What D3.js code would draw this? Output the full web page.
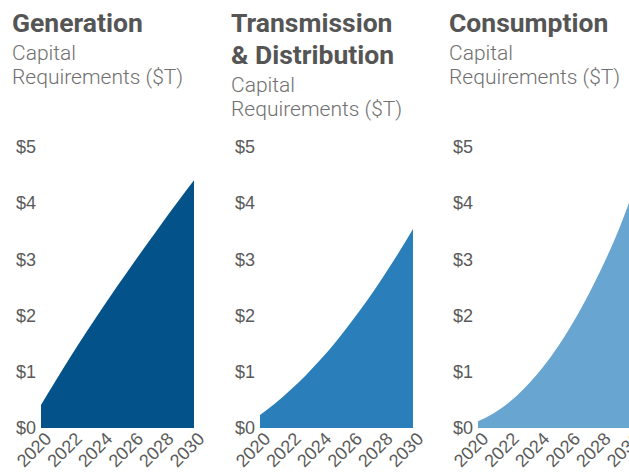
<!DOCTYPE html>
<html>
<head>
<meta charset="utf-8">
<script src="https://cdn.jsdelivr.net/npm/d3@7"></script>
<style>
    body { margin: 0; background: #fff; }
    svg { display: block; font-family: Roboto, "Noto Sans", sans-serif; }
    .title { font-weight: 700; font-size: 26.5px; fill: #555; }
    .subtitle { font-weight: 300; font-size: 21px; fill: #707070; }
    .y-axis text { font-size: 18px; fill: #5a5a5a; font-weight: 300; }
    .x-axis text { font-size: 18px; fill: #5a5a5a; font-weight: 300; }
</style>
</head>
<body>
<svg></svg>
<script>
const width = 629;
const height = 473;

// data ($ trillions)
const years = [2020, 2021, 2022, 2023, 2024, 2025, 2026, 2027, 2028, 2029, 2030];
const generation = [0.41, 0.86, 1.3, 1.72, 2.13, 2.53, 2.92, 3.3, 3.68, 4.05, 4.41];
const transmission = [0.23, 0.44, 0.68, 0.94, 1.23, 1.55, 1.9, 2.27, 2.67, 3.09, 3.54];
const consumption = [0.12, 0.26, 0.45, 0.7, 1.0, 1.36, 1.78, 2.26, 2.8, 3.4, 4.1];
const yTicks = [0, 1, 2, 3, 4, 5];
const xTicks = [2020, 2022, 2024, 2026, 2028, 2030];

const panels = [
    { title: ["Generation"], values: generation, color: "#03528a", offset: 0 },
    { title: ["Transmission", "& Distribution"], values: transmission, color: "#2a7fbb", offset: 219 },
    { title: ["Consumption"], values: consumption, color: "#69a5d1", offset: 437 },
];

const plot = { left: 41, right: 194, top: 147, bottom: 428 };

const svg = d3.select("svg").attr("width", width).attr("height", height);

const x = d3.scaleLinear().domain([2020, 2030]).range([plot.left, plot.right]);
const y = d3.scaleLinear().domain([0, 5]).range([plot.bottom, plot.top]);

const area = d3
    .area()
    .x((d) => x(d.year))
    .y0(y(0))
    .y1((d) => y(d.value))
    .curve(d3.curveNatural);

panels.forEach((p) => {
    const g = svg.append("g").attr("transform", `translate(${p.offset}, 0)`);

    // heading
    const head = g.append("g");
    let ty = 32;
    p.title.forEach((t) => {
        head.append("text").attr("class", "title").attr("x", 12).attr("y", ty).text(t);
        ty += 32;
    });
    ty -= 4;
    head.append("text").attr("class", "subtitle").attr("x", 12).attr("y", ty).text("Capital");
    head.append("text").attr("class", "subtitle").attr("x", 12).attr("y", ty + 24).text("Requirements ($T)");

    const data = years.map((yr, i) => ({ year: yr, value: p.values[i] }));

    g.append("path").datum(data).attr("d", area).attr("fill", p.color);

    g.append("g")
        .attr("class", "y-axis")
        .attr("transform", `translate(${plot.left}, 0)`)
        .call(d3.axisLeft(y).tickValues(yTicks).tickSize(0).tickPadding(5).tickFormat((d) => "$" + d))
        .call((g) => g.select(".domain").remove());

    g.append("g")
        .attr("class", "x-axis")
        .attr("transform", `translate(0, ${plot.bottom})`)
        .call(d3.axisBottom(x).tickValues(xTicks).tickSize(0).tickFormat(d3.format("d")))
        .call((g) => g.select(".domain").remove())
        .selectAll("text")
        .attr("text-anchor", "end")
        .attr("x", 0)
        .attr("y", 0)
        .attr("dy", 0)
        .attr("transform", "translate(11, 12) rotate(-45)");
});
</script>
</body>
</html>
